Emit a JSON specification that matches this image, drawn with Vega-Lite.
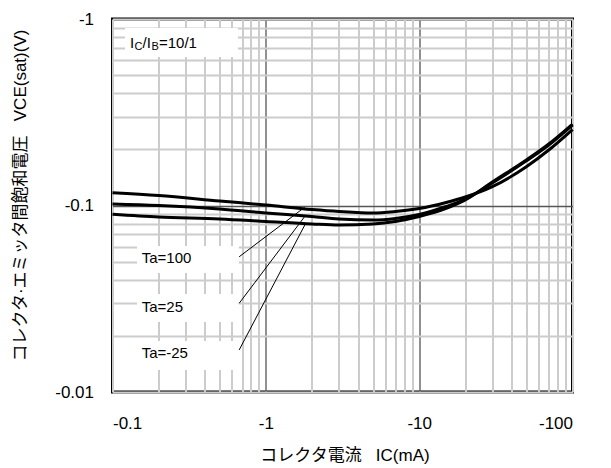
{
  "$schema": "https://vega.github.io/schema/vega-lite/v6.json",
  "width": 460,
  "height": 373,
  "autosize": {"type": "none"},
  "padding": {"left": 112.5, "top": 19, "right": 38.5, "bottom": 76},
  "background": "white",
  "config": {
    "view": {"stroke": "black", "strokeWidth": 3},
    "font": "Liberation Sans",
    "axis": {
      "domain": false,
      "ticks": false,
      "labelFont": "Liberation Sans",
      "labelFontSize": 17,
      "labelColor": "black",
      "labelOverlap": false,
      "titleFont": "Liberation Sans, Noto Sans CJK JP",
      "titleFontSize": 17,
      "titleFontWeight": "normal",
      "titleColor": "black"
    }
  },
  "datasets": {
    "curves": [
      {"Ta": "100", "I": 0.1, "V": 0.1171}, {"Ta": "100", "I": 0.2, "V": 0.1131}, {"Ta": "100", "I": 0.5, "V": 0.1057},
      {"Ta": "100", "I": 1, "V": 0.1006}, {"Ta": "100", "I": 2, "V": 0.0952}, {"Ta": "100", "I": 3, "V": 0.0929},
      {"Ta": "100", "I": 5, "V": 0.0912}, {"Ta": "100", "I": 7, "V": 0.0929}, {"Ta": "100", "I": 10, "V": 0.0964},
      {"Ta": "100", "I": 15, "V": 0.1038}, {"Ta": "100", "I": 20, "V": 0.111}, {"Ta": "100", "I": 30, "V": 0.1261},
      {"Ta": "100", "I": 50, "V": 0.1614}, {"Ta": "100", "I": 70, "V": 0.1984}, {"Ta": "100", "I": 100, "V": 0.2556},
      {"Ta": "25", "I": 0.1, "V": 0.1019}, {"Ta": "25", "I": 0.2, "V": 0.1}, {"Ta": "25", "I": 0.5, "V": 0.0958},
      {"Ta": "25", "I": 1, "V": 0.0912}, {"Ta": "25", "I": 2, "V": 0.0873}, {"Ta": "25", "I": 3, "V": 0.0847},
      {"Ta": "25", "I": 5, "V": 0.0836}, {"Ta": "25", "I": 7, "V": 0.0852}, {"Ta": "25", "I": 10, "V": 0.0895},
      {"Ta": "25", "I": 15, "V": 0.0988}, {"Ta": "25", "I": 20, "V": 0.1083}, {"Ta": "25", "I": 30, "V": 0.132},
      {"Ta": "25", "I": 50, "V": 0.1735}, {"Ta": "25", "I": 70, "V": 0.211}, {"Ta": "25", "I": 100, "V": 0.27},
      {"Ta": "-25", "I": 0.1, "V": 0.0897}, {"Ta": "-25", "I": 0.2, "V": 0.0868}, {"Ta": "-25", "I": 0.5, "V": 0.0847},
      {"Ta": "-25", "I": 1, "V": 0.0821}, {"Ta": "-25", "I": 2, "V": 0.0796}, {"Ta": "-25", "I": 3, "V": 0.0786},
      {"Ta": "-25", "I": 5, "V": 0.0796}, {"Ta": "-25", "I": 7, "V": 0.0821}, {"Ta": "-25", "I": 10, "V": 0.0873},
      {"Ta": "-25", "I": 15, "V": 0.0964}, {"Ta": "-25", "I": 20, "V": 0.107}, {"Ta": "-25", "I": 30, "V": 0.1337},
      {"Ta": "-25", "I": 50, "V": 0.1754}, {"Ta": "-25", "I": 70, "V": 0.2137}, {"Ta": "-25", "I": 100, "V": 0.2735}
    ],
    "boxes": [
      {"x1": 0.1206, "x2": 0.657, "y1": 0.625, "y2": 0.895},
      {"x1": 0.1444, "x2": 0.667, "y1": 0.0435, "y2": 0.0607},
      {"x1": 0.1444, "x2": 0.667, "y1": 0.0237, "y2": 0.0335},
      {"x1": 0.1444, "x2": 0.667, "y1": 0.01312, "y2": 0.01877}
    ],
    "leaders": [
      {"x1": 0.67, "y1": 0.0531, "x2": 1.79, "y2": 0.0978},
      {"x1": 0.67, "y1": 0.0299, "x2": 1.81, "y2": 0.0882},
      {"x1": 0.67, "y1": 0.0168, "x2": 1.81, "y2": 0.0796}
    ],
    "labels": [
      {"x": 0.155, "y": 0.0523, "label": "Ta=100"},
      {"x": 0.155, "y": 0.02856, "label": "Ta=25"},
      {"x": 0.155, "y": 0.01619, "label": "Ta=-25"}
    ],
    "ratio": [{"x": 0.13, "y": 0.743}]
  },
  "layer": [
    {
      "data": {"name": "curves"},
      "mark": {"type": "line", "color": "black", "strokeWidth": 3, "interpolate": "monotone"},
      "encoding": {
        "x": {
          "field": "I", "type": "quantitative",
          "scale": {"type": "log", "domain": [0.1, 100], "nice": false},
          "axis": {
            "values": [0.1, 0.2, 0.3, 0.4, 0.5, 0.6, 0.7, 0.8, 0.9, 1, 2, 3, 4, 5, 6, 7, 8, 9, 10, 20, 30, 40, 50, 60, 70, 80, 90, 100],
            "labelExpr": "datum.value == 0.1 ? '-0.1' : datum.value == 1 ? '-1' : datum.value == 10 ? '-10' : datum.value == 100 ? '-100' : ''",
            "labelPadding": 23,
            "grid": true,
            "gridColor": {"condition": {"test": "datum.value == 1 || datum.value == 10", "value": "#555555"}, "value": "#cccccc"},
            "gridWidth": {"condition": {"test": "datum.value == 1 || datum.value == 10", "value": 1.3}, "value": 2},
            "title": "コレクタ電流\u00a0\u00a0\u00a0IC(mA)",
            "titleX": 232,
            "titleY": 55,
            "titleBaseline": "top"
          }
        },
        "y": {
          "field": "V", "type": "quantitative",
          "scale": {"type": "log", "domain": [0.01, 1], "nice": false},
          "axis": {
            "values": [0.01, 0.02, 0.03, 0.04, 0.05, 0.06, 0.07, 0.08, 0.09, 0.1, 0.2, 0.3, 0.4, 0.5, 0.6, 0.7, 0.8, 0.9, 1],
            "labelExpr": "datum.value == 0.01 ? '-0.01' : abs(datum.value - 0.1) < 1e-9 ? '-0.1' : datum.value == 1 ? '-1' : ''",
            "labelPadding": 19,
            "grid": true,
            "gridColor": {"condition": {"test": "abs(datum.value - 0.1) < 1e-9", "value": "#555555"}, "value": "#cccccc"},
            "gridWidth": {"condition": {"test": "abs(datum.value - 0.1) < 1e-9", "value": 1.3}, "value": 2},
            "title": "コレクタ·エミッタ間飽和電圧\u00a0\u00a0\u00a0VCE(sat)(V)",
            "titleAngle": -90,
            "titleAlign": "center",
            "titleBaseline": "bottom",
            "titleX": -83,
            "titleY": 176
          }
        },
        "detail": {"field": "Ta", "type": "nominal"}
      }
    },
    {
      "data": {"name": "boxes"},
      "mark": {"type": "rect", "fill": "white", "stroke": null},
      "encoding": {
        "x": {"field": "x1", "type": "quantitative"},
        "x2": {"field": "x2"},
        "y": {"field": "y1", "type": "quantitative"},
        "y2": {"field": "y2"}
      }
    },
    {
      "data": {"name": "leaders"},
      "mark": {"type": "rule", "color": "black", "strokeWidth": 1},
      "encoding": {
        "x": {"field": "x1", "type": "quantitative"},
        "x2": {"field": "x2"},
        "y": {"field": "y1", "type": "quantitative"},
        "y2": {"field": "y2"}
      }
    },
    {
      "data": {"name": "labels"},
      "mark": {"type": "text", "align": "left", "baseline": "middle", "fontSize": 15, "font": "Liberation Sans", "color": "black"},
      "encoding": {
        "x": {"field": "x", "type": "quantitative"},
        "y": {"field": "y", "type": "quantitative"},
        "text": {"field": "label"}
      }
    },
    {
      "data": {"name": "ratio"},
      "encoding": {
        "x": {"field": "x", "type": "quantitative"},
        "y": {"field": "y", "type": "quantitative"}
      },
      "layer": [
        {"mark": {"type": "text", "text": "I", "align": "left", "baseline": "middle", "fontSize": 15, "color": "black", "dx": 0}},
        {"mark": {"type": "text", "text": "C", "align": "left", "baseline": "middle", "fontSize": 11, "color": "black", "dx": 4.5, "dy": 4}},
        {"mark": {"type": "text", "text": "/I", "align": "left", "baseline": "middle", "fontSize": 15, "color": "black", "dx": 12.5}},
        {"mark": {"type": "text", "text": "B", "align": "left", "baseline": "middle", "fontSize": 11, "color": "black", "dx": 21.5, "dy": 4}},
        {"mark": {"type": "text", "text": "=10/1", "align": "left", "baseline": "middle", "fontSize": 15, "color": "black", "dx": 29}}
      ]
    }
  ]
}
